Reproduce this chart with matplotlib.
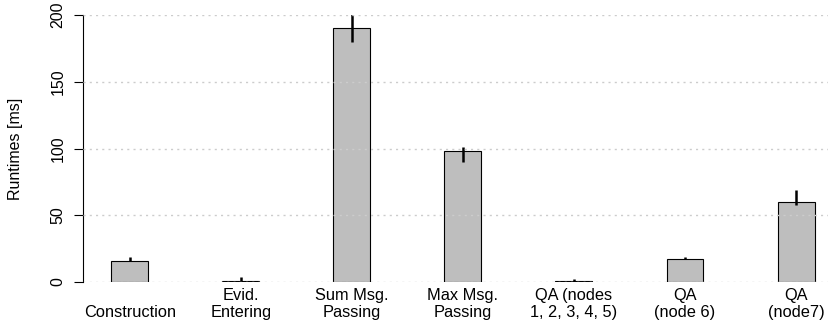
import matplotlib.pyplot as plt
import numpy as np
plt.rcParams['font.family'] = ['Liberation Sans', 'DejaVu Sans']

labels = ['Construction', 'Evid.\nEntering', 'Sum Msg.\nPassing', 'Max Msg.\nPassing',
          'QA (nodes\n1, 2, 3, 4, 5)', 'QA\n(node 6)', 'QA\n(node7)']
runtimes = [16, 1, 190, 98, 1, 17, 60]
err_low = [16, 0.5, 180, 90, 0.5, 17, 58]
err_high = [19, 3.5, 201, 101, 2.5, 19, 69]


def Plot_Runtimes(fig_name):
    fig = plt.figure(figsize=(8.29, 3.29), dpi=100)
    ax = fig.add_axes([0.100, 0.143, 0.900, 0.811])
    x = np.arange(len(runtimes))

    ax.bar(x, runtimes, width=0.333, color='#BEBEBE', edgecolor='black', linewidth=0.8, zorder=2)
    ax.vlines(x, err_low, err_high, color='black', linewidth=1.8, zorder=3)

    for yv in [0, 50, 100, 150, 200]:
        ax.axhline(yv, color='#CCCCCC', linestyle=(0, (1.5, 3)), linewidth=1.0, zorder=4)

    ax.set_xlim(-0.423, 6.297)
    ax.set_ylim(0, 200)
    ax.set_xticks([])
    for s in ['top', 'right', 'bottom']:
        ax.spines[s].set_visible(False)
    ax.spines['left'].set_bounds(0, 200)
    ax.spines['left'].set_linewidth(0.8)
    ax.set_yticks([0, 50, 100, 150, 200])
    ax.tick_params(axis='y', length=6.5, width=0.8, pad=6, labelsize=11.5)
    for t in ax.get_yticklabels():
        t.set_rotation(90)
        t.set_verticalalignment('center')

    for xi, lab in zip(x, labels):
        ax.text(xi, -0.131, lab, transform=ax.get_xaxis_transform(), ha='center',
                va='baseline', fontsize=11.8, linespacing=1.2, clip_on=False)

    ax.set_ylabel('Runtimes [ms]', fontsize=11.5)
    ax.yaxis.set_label_coords(-0.080, 0.5)

    plt.savefig(fig_name, dpi=100)
    plt.close()


if __name__ == '__main__':
    Plot_Runtimes('out.png')
